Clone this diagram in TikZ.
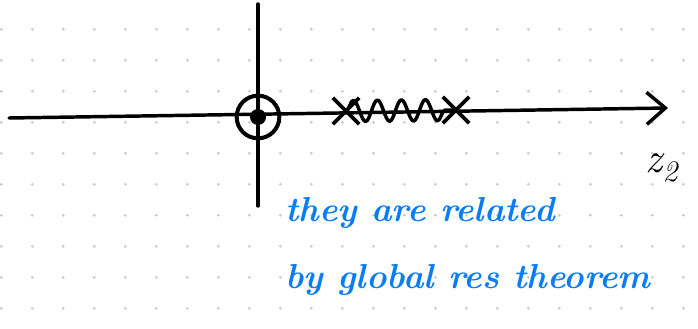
\documentclass[tikz,border=0pt]{standalone}
\usepackage{fontspec}
\usepackage{tikz}
\usepackage{xcolor}
\usetikzlibrary{arrows.meta, positioning, shapes.misc, decorations.pathmorphing}
\definecolor{penblue}{RGB}{10,125,245}
\definecolor{dotgray}{RGB}{200,200,200}

\begin{document}
\begin{tikzpicture}[x=0.75pt,y=-0.75pt,
          pen/.style={line width=2.6pt,line cap=round,line join=round},
          cut/.style={cross out,draw,line width=2.8pt,minimum width=17pt,
                      minimum height=17pt,inner sep=0pt},
          note/.style={text=penblue,anchor=base west,inner sep=0pt,
                       font=\fontsize{26}{26}\selectfont\bfseries\itshape}]
        \useasboundingbox (0,0) rectangle (698,328);
        \foreach \i in {0,...,22}
          \foreach \j in {0,...,9}
            \fill[dotgray] (1.3+31*\i,29.3+31*\j) circle (1.5);
        \coordinate (west) at (9,118);
        \coordinate (east) at (668,108);
        \coordinate (north) at (258,4);
        \coordinate (south) at (258,206);
        \draw[pen](north)--(south);
        \draw[pen,-{Straight Barb[length=14pt,width=24pt,line width=2.6pt]}]
          (west)--(east);
        \node[circle,draw,line width=3pt,minimum size=32pt,inner sep=0pt]
          (pole) at (258,117) {};
        \node[circle,fill,minimum size=12pt,inner sep=0pt](dot) at (pole) {};
        \node[cut](cutL) at (346,111) {};
        \node[cut](cutR) at (456,110) {};
        \draw[pen,decorate,decoration={snake,amplitude=8pt,segment length=18pt}]
          (cutL.center)--(cutR.center);
        \node[note](line1) at (285,221) {they are related};
        \node[note](line2) at (285,288) {by global res theorem};
        \node[font=\fontsize{32}{32}\selectfont](label) at (662,168)
          {\itshape z\textsubscript{2}};
      \end{tikzpicture}
\end{document}
